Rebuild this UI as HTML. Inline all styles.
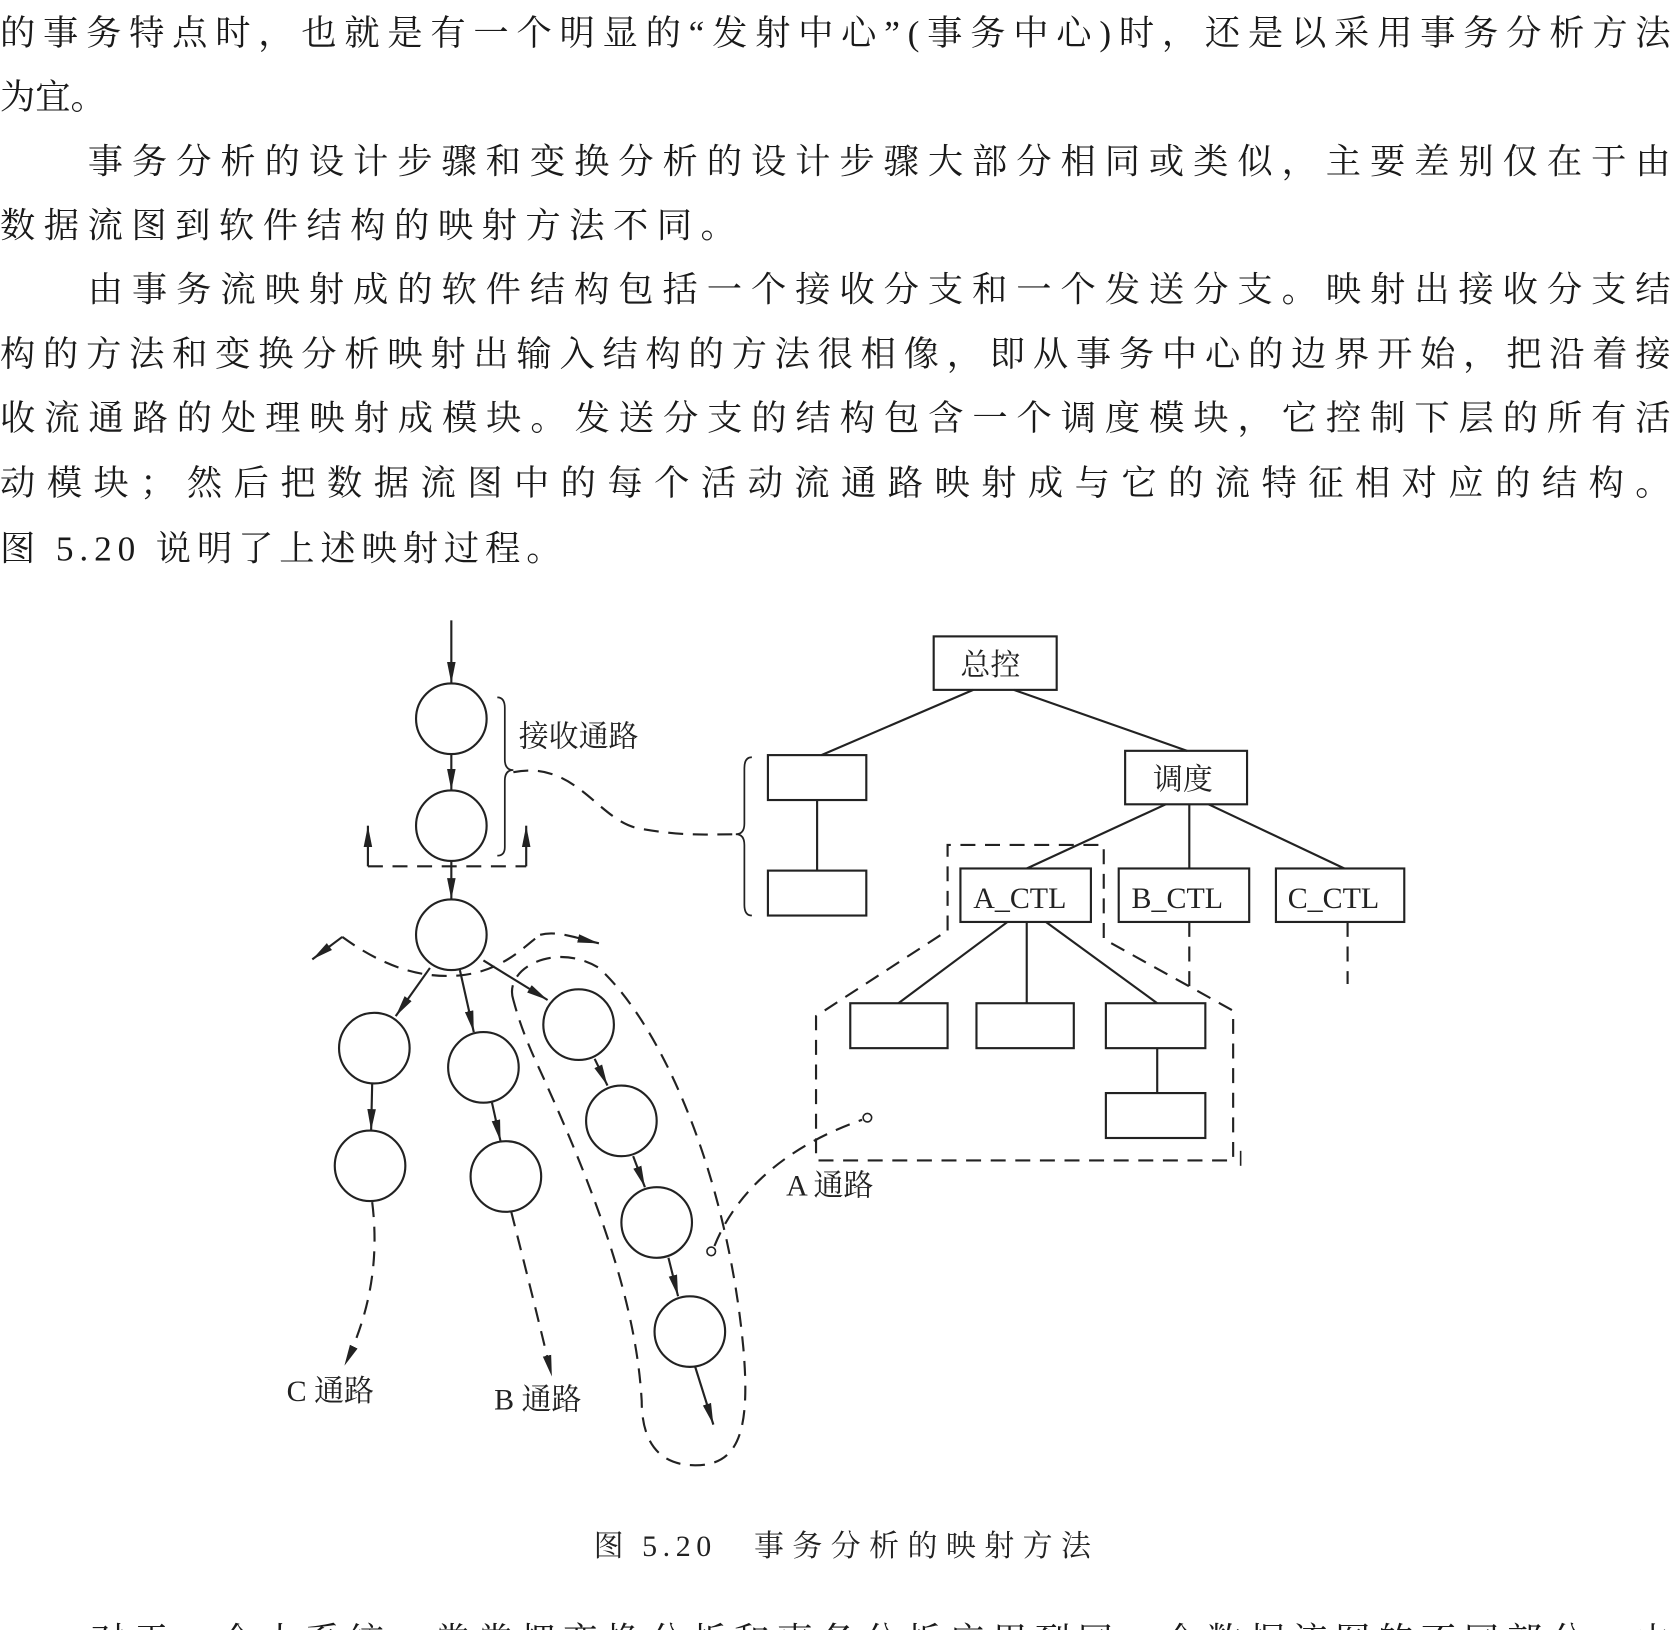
<!DOCTYPE html>
<html><head><meta charset="utf-8"><style>
html,body{margin:0;padding:0;background:#fff;}
svg{display:block;}
.t{font-family:"Liberation Serif","Noto Serif CJK SC",serif;font-size:33px;fill:#1a1a1a;}
.l{font-family:"Liberation Serif","Noto Serif CJK SC",serif;font-size:28px;fill:#222;}
</style></head><body>
<svg width="1677" height="1630" viewBox="0 0 1568 1524" xmlns="http://www.w3.org/2000/svg">
<defs>
<marker id="b" viewBox="0 0 20 10" refX="20" refY="5" markerWidth="20" markerHeight="10" orient="auto" markerUnits="userSpaceOnUse"><path d="M0,1 L20,5 L0,9 z" fill="#222"/></marker>
</defs>
<g class="t">
<text x="0" y="42" textLength="1562" lengthAdjust="spacing">的事务特点时，也就是有一个明显的“发射中心”(事务中心)时，还是以采用事务分析方法</text>
<text x="0" y="102">为宜。</text>
<text x="82" y="162" textLength="1480" lengthAdjust="spacing">事务分析的设计步骤和变换分析的设计步骤大部分相同或类似，主要差别仅在于由</text>
<text x="0" y="222" textLength="688" lengthAdjust="spacing">数据流图到软件结构的映射方法不同。</text>
<text x="82" y="282" textLength="1480" lengthAdjust="spacing">由事务流映射成的软件结构包括一个接收分支和一个发送分支。映射出接收分支结</text>
<text x="0" y="342" textLength="1562" lengthAdjust="spacing">构的方法和变换分析映射出输入结构的方法很相像，即从事务中心的边界开始，把沿着接</text>
<text x="0" y="402" textLength="1562" lengthAdjust="spacing">收流通路的处理映射成模块。发送分支的结构包含一个调度模块，它控制下层的所有活</text>
<text x="0" y="463" textLength="1562" lengthAdjust="spacing">动模块；然后把数据流图中的每个活动流通路映射成与它的流特征相对应的结构。</text>
<text x="0" y="524" textLength="525" lengthAdjust="spacing">图 5.20 说明了上述映射过程。</text>
<text x="85" y="1545" textLength="1477" lengthAdjust="spacing">对于一个大系统，常常把变换分析和事务分析应用到同一个数据流图的不同部分，由</text>
</g>
<g fill="none" stroke="#222" stroke-width="2">
<circle cx="422" cy="672" r="33" fill="#fff"/>
<circle cx="422" cy="772" r="33" fill="#fff"/>
<circle cx="422" cy="874" r="33" fill="#fff"/>
<circle cx="350" cy="980" r="33"/>
<circle cx="452" cy="998" r="33"/>
<circle cx="541" cy="958" r="33"/>
<circle cx="346" cy="1090" r="33"/>
<circle cx="473" cy="1100" r="33"/>
<circle cx="581" cy="1048" r="33"/>
<circle cx="614" cy="1143" r="33"/>
<circle cx="645" cy="1245" r="33"/>
<g marker-end="url(#b)">
<line x1="422" y1="580" x2="422" y2="639"/>
<line x1="422" y1="705" x2="422" y2="739"/>
<line x1="422" y1="805" x2="422" y2="841"/>
<line x1="402" y1="905" x2="370" y2="950"/>
<line x1="430" y1="907" x2="443" y2="965"/>
<line x1="452" y1="898" x2="512" y2="935"/>
<line x1="348" y1="1013" x2="347" y2="1057"/>
<line x1="460" y1="1031" x2="468" y2="1067"/>
<line x1="556" y1="990" x2="568" y2="1015"/>
<line x1="592" y1="1081" x2="603" y2="1110"/>
<line x1="625" y1="1176" x2="634" y2="1212"/>
<line x1="650" y1="1278" x2="667" y2="1332"/>
<line x1="344" y1="810" x2="344" y2="772"/>
<line x1="492" y1="810" x2="492" y2="772"/>
</g>
<path d="M465,652 Q472,652 472,662 L472,710 Q472,720 480,720 Q472,720 472,730 L472,792 Q472,800 465,800" stroke-width="1.6"/>
<path d="M703,708 Q696,708 696,718 L696,770 Q696,780 688,780 Q696,780 696,790 L696,846 Q696,856 703,856" stroke-width="1.6"/>
</g>
<g fill="none" stroke="#222" stroke-width="2" stroke-dasharray="14,9">
<path d="M344,810 L492,810"/>
<path d="M480,722 C540,710 560,770 600,775 C640,782 660,780 688,780"/>
<path d="M320,876 C360,905 395,915 430,912 C470,908 490,885 505,874" />
<path d="M320,876 L292,897" marker-end="url(#b)" stroke-dasharray="none"/>
<path d="M505,874 C520,870 535,876 560,882" marker-end="url(#b)"/>
<path d="M480,935 C470,905 520,880 560,905 C620,960 680,1100 695,1260 C702,1340 690,1370 650,1370 C610,1370 600,1340 600,1310 C595,1220 560,1120 500,990 C490,968 484,950 480,935 Z"/>
<path d="M348,1124 C355,1180 345,1230 322,1277" marker-end="url(#b)"/>
<path d="M478,1133 C490,1180 505,1240 516,1287" marker-end="url(#b)"/>
<path d="M668,1165 C690,1110 740,1070 806,1047"/>
<path d="M886,870 L886,790 L1032,790 L1032,878 L1153,945 L1153,1085 L763,1085 L763,950 L886,870"/>
<line x1="1112" y1="862" x2="1112" y2="922"/>
<line x1="1260" y1="862" x2="1260" y2="920"/>
</g>
<circle cx="665" cy="1170" r="4" fill="#fff" stroke="#222" stroke-width="1.5"/>
<circle cx="811" cy="1045" r="4" fill="#fff" stroke="#222" stroke-width="1.5"/>
<line x1="1160" y1="1076" x2="1160" y2="1090" stroke="#222" stroke-width="1.5"/>
<g fill="#fff" stroke="#222" stroke-width="2">
<rect x="873" y="595" width="115" height="50"/>
<rect x="718" y="706" width="92" height="42"/>
<rect x="718" y="814" width="92" height="42"/>
<rect x="1052" y="702" width="114" height="50"/>
<rect x="898" y="812" width="122" height="50"/>
<rect x="1046" y="812" width="122" height="50"/>
<rect x="1193" y="812" width="120" height="50"/>
<rect x="795" y="938" width="91" height="42"/>
<rect x="913" y="938" width="91" height="42"/>
<rect x="1034" y="938" width="93" height="42"/>
<rect x="1034" y="1022" width="93" height="42"/>
</g>
<g stroke="#222" stroke-width="2">
<line x1="910" y1="645" x2="768" y2="706"/>
<line x1="948" y1="645" x2="1110" y2="702"/>
<line x1="764" y1="748" x2="764" y2="814"/>
<line x1="1090" y1="752" x2="960" y2="812"/>
<line x1="1112" y1="752" x2="1112" y2="812"/>
<line x1="1130" y1="752" x2="1257" y2="812"/>
<line x1="942" y1="862" x2="840" y2="938"/>
<line x1="960" y1="862" x2="960" y2="938"/>
<line x1="978" y1="862" x2="1082" y2="938"/>
<line x1="1082" y1="980" x2="1082" y2="1022"/>
</g>
<g class="l">
<text x="898" y="631">总控</text>
<text x="1078" y="738">调度</text>
<text x="910" y="849">A_CTL</text>
<text x="1058" y="849">B_CTL</text>
<text x="1204" y="849">C_CTL</text>
<text x="485" y="698">接收通路</text>
<text x="735" y="1118">A 通路</text>
<text x="268" y="1310">C 通路</text>
<text x="462" y="1318">B 通路</text>
<text x="555" y="1455" textLength="110" lengthAdjust="spacing">图 5.20</text>
<text x="705" y="1455" textLength="315" lengthAdjust="spacing">事务分析的映射方法</text>
</g>
</svg>
</body></html>
